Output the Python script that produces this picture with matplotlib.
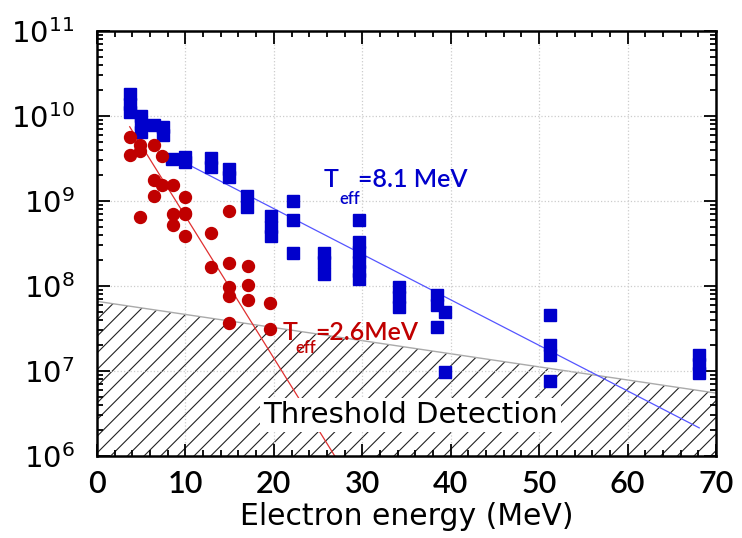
import numpy as np
import matplotlib
matplotlib.use("Agg")
import matplotlib.pyplot as plt
from matplotlib.transforms import offset_copy
from matplotlib.ticker import FixedLocator, LogLocator, NullFormatter, MultipleLocator

plt.rcParams['font.family'] = ['DejaVu Sans']
plt.rcParams['mathtext.fontset'] = 'custom'
plt.rcParams['mathtext.rm'] = 'Lato:semibold'
plt.rcParams['hatch.linewidth'] = 0.8

# du lieu xanh (T_eff = 8.1 MeV)
blue_e = [3.7, 3.7, 3.7, 5.0, 5.0, 5.0, 6.5, 7.5, 7.5, 8.5, 9.9, 9.9,
          12.9, 12.9, 14.9, 14.9, 17.0, 17.0, 19.7, 19.7, 19.7,
          22.2, 22.2, 22.2, 25.7, 25.7, 25.7,
          29.6, 29.6, 29.6, 29.6, 29.6, 29.6,
          34.1, 34.1, 34.1, 38.5, 38.5, 38.5, 39.3, 39.3,
          51.2, 51.2, 51.2, 51.2, 68.1, 68.1, 68.1]
blue_n = [1.8e10, 1.4e10, 1.1e10, 1.0e10, 8e9, 6.5e9, 7.8e9, 7.5e9, 6e9, 3.1e9, 3.3e9, 2.9e9,
          3.2e9, 2.5e9, 2.4e9, 1.9e9, 1.13e9, 8.5e8, 6.6e8, 5e8, 3.9e8,
          9.9e8, 5.9e8, 2.46e8, 2.45e8, 1.9e8, 1.37e8,
          6e8, 3.3e8, 2.5e8, 1.9e8, 1.5e8, 1.2e8,
          9.8e7, 7.5e7, 5.6e7, 7.9e7, 6e7, 3.3e7, 4.9e7, 9.8e6,
          4.6e7, 2e7, 1.56e7, 7.7e6, 1.56e7, 1.2e7, 9.5e6]

# du lieu do (T_eff = 2.6 MeV)
red_e = [3.7, 3.7, 4.9, 4.9, 6.5, 7.4, 6.5, 7.4, 8.6, 6.5, 9.9, 4.9, 8.6, 9.9,
         8.6, 9.9, 12.9, 14.9, 9.9, 12.9, 14.9, 17.1, 14.9, 14.9, 17.1, 17.1,
         19.6, 14.9, 19.6]
red_n = [5.6e9, 3.5e9, 4.6e9, 3.9e9, 4.6e9, 3.4e9, 1.76e9, 1.53e9, 1.53e9, 1.16e9, 1.1e9,
         6.5e8, 7.1e8, 7.1e8, 5.2e8, 3.9e8, 4.2e8, 7.6e8, 7.2e8, 1.68e8, 1.87e8, 1.71e8,
         9.8e7, 7.7e7, 1.04e8, 6.9e7, 6.3e7, 3.7e7, 3.1e7]

# duong khop: N = A * exp(-E / T)
T_blue, A_blue, blue_range = 8.1, 9.6e9, (8.5, 68.1)
T_red, A_red, red_range = 2.6, 3.1e10, (3.7, 28.0)

# nguong phat hien (duong thang tren thang log)
thr_e = [0, 70]
thr_n = [6.6e7, 5.5e6]

x_ticks = [0, 10, 20, 30, 40, 50, 60, 70]
y_exp = [6, 7, 8, 9, 10, 11]

fig = plt.figure(figsize=(7.42, 5.38), dpi=100)
ax = fig.add_axes([0.1307, 0.1524, 0.8343, 0.7900])

ax.fill_between(thr_e, 1e6, thr_n, facecolor='white', edgecolor='#222222',
                hatch='//', linewidth=0, zorder=1)
ax.plot(thr_e, thr_n, color='#aaaaaa', lw=1.0, zorder=1.5)

eb = np.linspace(*blue_range, 100)
ax.plot(eb, A_blue * np.exp(-eb / T_blue), color='#5555ff', lw=0.9, zorder=2)
er = np.linspace(*red_range, 100)
ax.plot(er, A_red * np.exp(-er / T_red), color='#e03030', lw=0.9, zorder=2)

ax.plot(blue_e, blue_n, 's', color='#0000cc', ms=8.6, mec='#0000cc', zorder=3)
ax.plot(red_e, red_n, 'o', color='#c00000', ms=8.6, mec='#c00000', zorder=3)


def teff_label(x, y, value, color, dx_sub, dy_sub, dx_rest):
    kw = dict(color=color, family='Lato', fontweight='semibold', zorder=4)
    ax.text(x, y, 'T', fontsize=18, **kw)
    t1 = offset_copy(ax.transData, fig=fig, x=dx_sub, y=-dy_sub, units='dots')
    ax.text(x, y, 'eff', fontsize=12, transform=t1, **kw)
    t2 = offset_copy(ax.transData, fig=fig, x=dx_rest, y=0, units='dots')
    ax.text(x, y, value, fontsize=18, transform=t2, **kw)


teff_label(25.6, 1.45e9, '=8.1 MeV', '#0000cc', 16, 17, 35)
teff_label(20.95, 2.33e7, '=2.6MeV', '#c00000', 13, 13, 33)

ax.text(18.8, 2.45e6, 'Threshold Detection', color='black', fontsize=21, zorder=4,
        bbox=dict(facecolor='white', edgecolor='none', pad=2))

ax.set_yscale('log')
ax.set_xticks(x_ticks)
ax.set_xticklabels([str(v) for v in x_ticks], family='Lato', fontweight='semibold', fontsize=22)
ax.xaxis.set_minor_locator(MultipleLocator(2))
ax.yaxis.set_major_locator(FixedLocator([10.0 ** k for k in y_exp]))
ax.yaxis.set_minor_locator(LogLocator(base=10, subs=np.arange(2, 10)))
ax.yaxis.set_minor_formatter(NullFormatter())
ax.set_yticklabels([r'$\mathregular{10^{%d}}$' % k for k in y_exp], fontsize=21)
ax.set_xlim(0, 70)
ax.set_ylim(1e6, 1e11)

ax.tick_params(which='both', direction='in', top=True, right=True, width=1.3)
ax.tick_params(which='major', length=9)
ax.tick_params(axis='x', which='major', pad=10)
ax.tick_params(axis='y', which='major', pad=16)
ax.tick_params(which='minor', length=4)
for s in ax.spines.values():
    s.set_linewidth(1.8)
ax.grid(True, which='major', color='#cccccc', linestyle=':', lw=0.9, zorder=0)

ax.set_xlabel('Electron energy (MeV)', fontsize=21.5, labelpad=3)

fig.savefig('out.png', dpi=100)
